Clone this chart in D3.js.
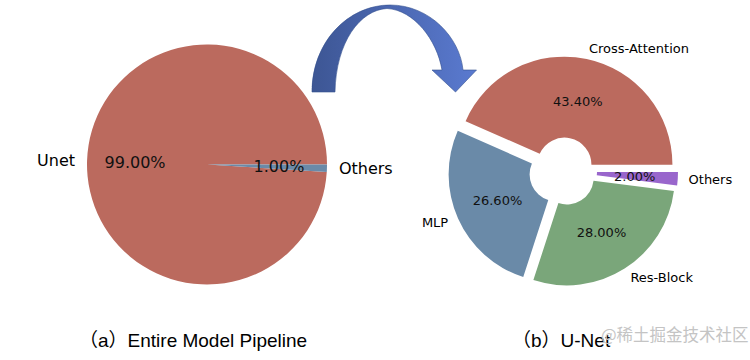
<!DOCTYPE html>
<html>
<head>
<meta charset="utf-8">
<script src="https://cdn.jsdelivr.net/npm/d3@7"></script>
<style>
  html, body { margin: 0; padding: 0; background: #fff; }
  svg { display: block; }
</style>
</head>
<body>
<svg id="chart" width="750" height="360"></svg>
<script>
// ---- data ----
const leftCategories = ["Unet", "Others"];
const leftValues = [99.0, 1.0];
const leftColors = ["#bb6a5e", "#6a8aa8"];

const rightCategories = ["Cross-Attention", "MLP", "Res-Block", "Others"];
const rightValues = [43.4, 26.6, 28.0, 2.0];
const rightColors = ["#bb6a5e", "#6a8aa8", "#7aa67a", "#9966cc"];

const captions = ["（a）Entire Model Pipeline", "（b）U-Net"];
const watermark = "@稀土掘金技术社区";

const svg = d3.select("#chart");
const FONT = "'DejaVu Sans', sans-serif";

// arrow gradient
const defs = svg.append("defs");
const grad = defs.append("linearGradient").attr("id", "arrowGrad")
  .attr("x1", "0%").attr("x2", "100%").attr("y1", "0%").attr("y2", "0%");
grad.append("stop").attr("offset", "0%").attr("stop-color", "#3d5694");
grad.append("stop").attr("offset", "100%").attr("stop-color", "#5a7ad0");

// matplotlib-style pie: start at 3 o'clock, counter-clockwise
function drawPie(cfg) {
  const pie = d3.pie().sort(null).value(d => d)
    .startAngle(Math.PI / 2).endAngle(Math.PI / 2 - 2 * Math.PI);
  const arcs = pie(cfg.values);
  const arc = d3.arc().innerRadius(cfg.inner).outerRadius(cfg.R);
  const g = svg.append("g").attr("transform", `translate(${cfg.cx},${cfg.cy})`);
  arcs.forEach((a, i) => {
    const mid = (a.startAngle + a.endAngle) / 2;
    const dx = Math.sin(mid), dy = -Math.cos(mid);
    const e = cfg.explode;
    const sg = g.append("g").attr("transform", `translate(${dx * e},${dy * e})`);
    sg.append("path").attr("d", arc(a)).attr("fill", cfg.colors[i]);
    const lr = cfg.R * 1.1;
    const lx = dx * lr, ly = dy * lr;
    sg.append("text")
      .attr("x", lx).attr("y", ly)
      .attr("text-anchor", lx > 0 ? "start" : "end")
      .attr("dominant-baseline", "central")
      .attr("font-family", FONT).attr("font-size", cfg.fs)
      .attr("fill", "#000")
      .text(cfg.cats[i]);
    const pr = cfg.R * 0.6;
    sg.append("text")
      .attr("x", dx * pr).attr("y", dy * pr)
      .attr("text-anchor", "middle")
      .attr("dominant-baseline", "central")
      .attr("font-family", FONT).attr("font-size", cfg.fs)
      .attr("fill", "#111")
      .text(d3.format(".2f")(cfg.values[i]) + "%");
  });
}

drawPie({ cx: 207, cy: 164.5, R: 120, inner: 0, explode: 0,
  values: leftValues, cats: leftCategories, colors: leftColors, fs: 16 });

drawPie({ cx: 563, cy: 171.5, R: 108, inner: 27, explode: 7,
  values: rightValues, cats: rightCategories, colors: rightColors, fs: 13 });

// curved arrow
svg.append("path")
  .attr("d", "M312,92 C312,42 348,5 390,5 C430,5 460,38 463,70 L476.5,70 L455.5,92 L432,70 L442,70 C437,40 414,10 387,8.5 C360,10 336,42 335,92 Z")
  .attr("fill", "url(#arrowGrad)")
  .attr("stroke", "#34508e").attr("stroke-width", 0.6);

// captions
svg.append("text").attr("x", 79).attr("y", 347)
  .attr("font-family", "'Liberation Sans', 'Noto Sans CJK SC', sans-serif")
  .attr("font-size", 19).attr("fill", "#000").text(captions[0]);
svg.append("text").attr("x", 512).attr("y", 347)
  .attr("font-family", "'Liberation Sans', 'Noto Sans CJK SC', sans-serif")
  .attr("font-size", 19).attr("fill", "#000").text(captions[1]);

// watermark
svg.append("text").attr("x", 601).attr("y", 341)
  .attr("font-family", "'Noto Sans CJK SC', sans-serif")
  .attr("font-size", 16.5).attr("fill", "#c4c4c4").text(watermark);
</script>
</body>
</html>
